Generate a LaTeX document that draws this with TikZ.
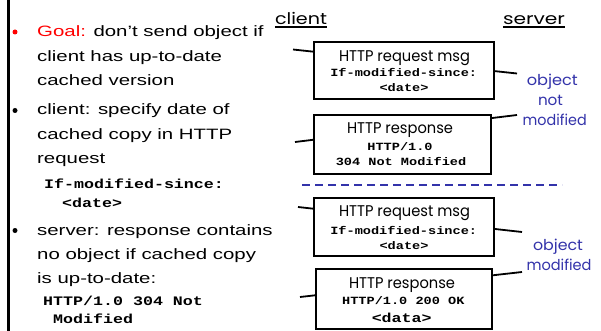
\documentclass[tikz,border=0pt]{standalone}
\usepackage{fontspec}
\usepackage{graphicx}
\setmainfont{Liberation Sans}
\newfontfamily\codefont{Liberation Mono}
\newfontfamily\handfont{Poppins}

\definecolor{labelblue}{RGB}{51,51,170}
\definecolor{goalred}{RGB}{255,0,0}

% horizontally widened text runs
\newcommand{\wide}[1]{\scalebox{1.36}[1]{#1}}
\newcommand{\widecode}[1]{\scalebox{1.28}[1]{#1}}
\newcommand{\boxcodetext}[1]{\scalebox{1.235}[1]{#1}}
\newcommand{\fitw}[2]{\resizebox{#1}{\height}{#2}}

\tikzset{
  leftline/.style={inner sep=0pt, anchor=base west, font=\fontsize{15}{18}\selectfont},
  codeline/.style={inner sep=0pt, anchor=base west, font=\fontsize{13}{15}\selectfont\codefont\bfseries},
  bulletdot/.style={circle, fill, inner sep=0pt, minimum size=5pt},
  msgbox/.style={draw, line width=1.8pt, fill=white, inner sep=0pt, outer sep=0pt},
  msgline/.style={line width=1.8pt},
  boxtitle/.style={inner sep=0pt, anchor=base, font=\fontsize{15.5}{18}\selectfont\handfont},
  boxcode/.style={inner sep=0pt, anchor=base, font=\fontsize{11}{13}\selectfont\codefont\bfseries},
  bigcode/.style={inner sep=0pt, anchor=base, font=\fontsize{13}{15}\selectfont\codefont\bfseries},
  note/.style={inner sep=0pt, anchor=base, text=labelblue, font=\fontsize{15}{18}\selectfont\handfont},
  endlabel/.style={inner sep=0pt, anchor=base, font=\fontsize{16}{18}\selectfont\handfont},
}

\begin{document}
\begin{tikzpicture}[x=1pt, y=1pt]
  \useasboundingbox (0,0) rectangle (601,-331);
  \fill[white] (0,0) rectangle (601,-331);

  % left rule
  \draw[line width=3pt] (8.5,0) -- (8.5,-331);

  % bullet list
  \node[bulletdot, goalred] (b1) at (15,-32) {};
  \node[bulletdot] (b2) at (15,-110.5) {};
  \node[bulletdot] (b3) at (15,-230.5) {};

  \node[leftline] (t1) at (37,-36.7) {\wide{\textcolor{goalred}{Goal:} don’t send object if}};
  \node[leftline] (t2) at (37,-62) {\wide{client has up-to-date}};
  \node[leftline] (t3) at (37,-86) {\wide{cached version}};
  \node[leftline] (t4) at (37,-115) {\wide{client: specify date of}};
  \node[leftline] (t5) at (37,-139.3) {\wide{cached copy in HTTP}};
  \node[leftline] (t6) at (37,-163.3) {\wide{request}};
  \node[codeline] (c1) at (44,-188.3) {\widecode{If-modified-since:}};
  \node[codeline] (c2) at (62,-207.5) {\widecode{<date>}};
  \node[leftline] (t7) at (37,-235) {\wide{server: response contains}};
  \node[leftline] (t8) at (37,-259.3) {\wide{no object if cached copy}};
  \node[leftline] (t9) at (37,-283.3) {\wide{is up-to-date:}};
  \node[codeline] (c3) at (43,-305.5) {\widecode{HTTP/1.0 304 Not}};
  \node[codeline] (c4) at (53,-323) {\widecode{Modified}};

  % side headings
  \node[endlabel] (client) at (301,-25) {\fitw{52pt}{client}};
  \node[endlabel] (server) at (534,-25) {\fitw{62pt}{server}};
  \draw[line width=1.1pt] ([yshift=-2pt]client.base west) -- ([yshift=-2pt]client.base east);
  \draw[line width=1.1pt] ([yshift=-2pt]server.base west) -- ([yshift=-2pt]server.base east);

  % message lines between the two sides
  \coordinate (cq1) at (293,-49.5);
  \coordinate (sq1) at (517,-73.5);
  \coordinate (sr1) at (517,-115);
  \coordinate (cr1) at (295,-142);
  \coordinate (cq2) at (298,-207);
  \coordinate (sq2) at (522,-232);
  \coordinate (sr2) at (522,-272);
  \coordinate (cr2) at (300,-297);
  \draw[msgline] (cq1) -- (sq1);
  \draw[msgline] (sr1) -- (cr1);
  \draw[msgline] (cq2) -- (sq2);
  \draw[msgline] (sr2) -- (cr2);

  % message boxes
  \node[msgbox, minimum width=180pt, minimum height=57pt] (req1) at (404,-70.5) {};
  \node[msgbox, minimum width=177pt, minimum height=59pt] (resp1) at (402.5,-144.5) {};
  \node[msgbox, minimum width=180pt, minimum height=58pt] (req2) at (404,-227) {};
  \node[msgbox, minimum width=176pt, minimum height=60pt] (resp2) at (404,-299) {};

  \node[boxtitle] (req1a) at (404.5,-61.5) {\fitw{131pt}{HTTP request msg}};
  \node[boxcode] (req1b) at (403.7,-76.5) {\boxcodetext{If-modified-since:}};
  \node[boxcode] (req1c) at (404,-91.5) {\boxcodetext{<date>}};

  \node[boxtitle] (resp1a) at (400,-133.5) {\fitw{106pt}{HTTP response}};
  \node[boxcode] (resp1b) at (400,-150) {\boxcodetext{HTTP/1.0}};
  \node[boxcode] (resp1c) at (401,-165.5) {\boxcodetext{304 Not Modified}};

  \node[boxtitle] (req2a) at (404.5,-216.7) {\fitw{131pt}{HTTP request msg}};
  \node[boxcode] (req2b) at (403.7,-234) {\boxcodetext{If-modified-since:}};
  \node[boxcode] (req2c) at (404,-249.5) {\boxcodetext{<date>}};

  \node[boxtitle] (resp2a) at (402,-288.5) {\fitw{106pt}{HTTP response}};
  \node[boxcode] (resp2b) at (403.3,-304) {\boxcodetext{HTTP/1.0 200 OK}};
  \node[bigcode] (resp2c) at (401.7,-322) {\widecode{<data>}};

  % separator between the two cases
  \draw[labelblue, line width=2pt, dash pattern=on 8pt off 5pt] (302,-185) -- (562,-185);

  % outcome notes
  \node[note] (n1) at (552.3,-86) {\fitw{51pt}{object}};
  \node[note] (n2) at (550.5,-105.5) {\fitw{25pt}{not}};
  \node[note] (n3) at (554.7,-125.5) {\fitw{64pt}{modified}};
  \node[note] (n4) at (558,-250.5) {\fitw{50pt}{object}};
  \node[note] (n5) at (559,-270) {\fitw{65pt}{modified}};
\end{tikzpicture}
\end{document}
